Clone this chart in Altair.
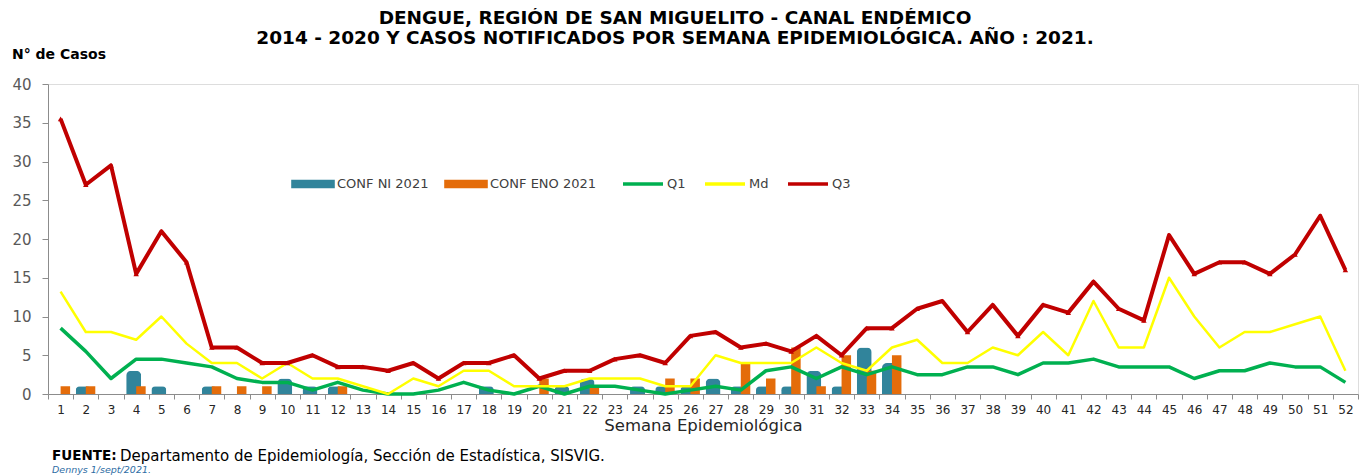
import altair as alt
import pandas as pd

# ---------------- data ----------------
weeks = list(range(1, 53))
conf_ni = [0, 1, 0, 3, 1, 0, 1, 0, 0, 2, 1, 1, 0, 0, 0, 0, 0, 1, 0, 0, 1, 2, 0, 1, 1, 1,
           2, 1, 1, 1, 3, 1, 6, 4] + [0] * 18
conf_eno = [1, 1, 0, 1, 0, 0, 1, 1, 1, 0, 0, 1, 0, 0, 0, 0, 0, 0, 0, 2, 0, 1, 0, 0, 2, 2,
            0, 4, 2, 6, 1, 5, 3, 5] + [0] * 18
q1 = [8.5, 5.5, 2, 4.5, 4.5, 4, 3.5, 2, 1.5, 1.5, 0.5, 1.5,
      0.5, 0, 0, 0.5, 1.5, 0.5, 0, 1, 0, 1, 1, 0.5, 0,
      0.5, 1, 0.5,
      3, 3.5, 2, 3.5, 2.5, 3.5, 2.5, 2.5, 3.5, 3.5,
      2.5, 4, 4, 4.5, 3.5, 3.5, 3.5, 2, 3, 3, 4, 3.5, 3.5, 1.5]
md = [13.2, 8, 8, 7, 10, 6.5, 4, 4, 2, 4, 2, 2,
      1, 0, 2, 1, 3, 3, 1, 1, 1, 2, 2, 2, 1,
      1, 5, 4,
      4, 4, 6, 4, 3, 6, 7, 4, 4, 6,
      5, 8, 5, 12, 6, 6, 15, 10, 6, 8, 8, 9, 10, 3]
q3 = [35.5, 27, 29.5, 15.5, 21, 17, 6, 6, 4, 4, 5, 3.5,
      3.5, 3, 4, 2, 4, 4, 5, 2, 3, 3, 4.5, 5, 4,
      7.5, 8, 6,
      6.5, 5.5, 7.5, 5, 8.5, 8.5, 11, 12, 8, 11.5,
      7.5, 11.5, 10.5, 14.5, 11, 9.5, 20.5, 15.5, 17, 17, 15.5, 18, 23, 16]
y_ticks = [0, 5, 10, 15, 20, 25, 30, 35, 40]

bar_names = ["CONF NI 2021", "CONF ENO 2021"]
line_names = ["Q1", "Md", "Q3"]

title_lines = ["DENGUE, REGIÓN DE SAN MIGUELITO - CANAL  ENDÉMICO",
               "2014 - 2020 Y  CASOS NOTIFICADOS POR SEMANA EPIDEMIOLÓGICA. AÑO : 2021."]
y_title = "N° de Casos"
x_title = "Semana Epidemiológica"
source_bold = "FUENTE:"
source_text = "Departamento de Epidemiología, Sección de Estadística, SISVIG."
author_text = "Dennys  1/sept/2021."

# ---------------- styles ----------------
bar_colors = ["#31849B", "#E46C0A"]
line_colors = ["#00B050", "#FFFF00", "#C00000"]
line_widths = [3.5, 2.5, 4]
axis_grey = "#8C8C8C"

bars_df = pd.DataFrame({
    "week": weeks * 2,
    "serie": [bar_names[0]] * 52 + [bar_names[1]] * 52,
    "value": conf_ni + conf_eno,
})
lines_df = pd.DataFrame({
    "week": weeks * 3,
    "serie": [line_names[0]] * 52 + [line_names[1]] * 52 + [line_names[2]] * 52,
    "value": q1 + md + q3,
})

x_enc = alt.X(
    "week:O",
    scale=alt.Scale(paddingInner=0, paddingOuter=0),
    axis=alt.Axis(
        title=x_title, labelAngle=0, tickBand="extent", grid=False,
        domainColor=axis_grey, tickColor=axis_grey, tickSize=5,
        labelFont="DejaVu Sans", labelFontSize=12, labelColor="#262626", labelPadding=5,
        titleFont="DejaVu Sans", titleFontSize=16.5, titleFontWeight="normal",
        titleColor="#262626", titlePadding=2,
    ),
)
y_scale = alt.Scale(domain=[0, 40], nice=False)
y_enc = alt.Y(
    "value:Q", scale=y_scale,
    axis=alt.Axis(
        title=None, values=y_ticks, grid=False,
        domainColor=axis_grey, tickColor=axis_grey, tickSize=6,
        labelFont="DejaVu Sans", labelFontSize=15, labelColor="#595959", labelPadding=11,
    ),
)

fill_enc = alt.Fill(
    "serie:N",
    scale=alt.Scale(domain=bar_names, range=bar_colors),
    legend=alt.Legend(
        title=None, orient="none", legendX=243, legendY=78, direction="horizontal",
        symbolType="M-1,-0.19L1,-0.19L1,0.19L-1,0.19Z", symbolSize=1900,
        symbolStrokeWidth=0, symbolOpacity=1,
        labelFont="DejaVu Sans", labelFontSize=13, labelColor="#404040",
        labelOffset=2, columnPadding=15,
    ),
)
stroke_enc = alt.Stroke(
    "serie:N",
    scale=alt.Scale(domain=line_names, range=line_colors),
    legend=alt.Legend(
        title=None, orient="none", legendX=573, legendY=78, direction="horizontal",
        symbolType="stroke", symbolSize=1600, symbolStrokeWidth=3.5,
        labelFont="DejaVu Sans", labelFontSize=13, labelColor="#404040",
        labelOffset=2, columnPadding=12,
    ),
)

bars_base = alt.Chart(bars_df).encode(x=x_enc, y=y_enc, fill=fill_enc)
bar_ni = bars_base.mark_bar(size=15, xOffset=-2.5, cornerRadiusTopLeft=5,
                            cornerRadiusTopRight=5).transform_filter(
    (alt.datum.serie == bar_names[0]) & (alt.datum.value > 0))
bar_eno = bars_base.mark_bar(size=9.5, xOffset=4.75).transform_filter(
    (alt.datum.serie == bar_names[1]) & (alt.datum.value > 0))

lines_base = alt.Chart(lines_df).encode(x=x_enc, y=y_enc, stroke=stroke_enc)
line_layers = []
for name, w in zip(line_names, line_widths):
    line_layers.append(
        lines_base.mark_line(strokeWidth=w, strokeJoin="round")
        .transform_filter(alt.datum.serie == name)
    )
q3_points = alt.Chart(lines_df).mark_point(
    shape="triangle-up", filled=True, size=30, color=line_colors[2], opacity=1
).encode(x=x_enc, y=y_enc).transform_filter(alt.datum.serie == line_names[2])

one = pd.DataFrame({"k": [0]})
title_mark = alt.Chart(one).mark_text(
    align="center", baseline="middle", font="DejaVu Sans", fontSize=18.5,
    fontWeight="bold", color="black", lineHeight=20,
).encode(x=alt.value(627), y=alt.value(-66), text=alt.value(title_lines))
ytitle_mark = alt.Chart(one).mark_text(
    align="left", baseline="middle", font="DejaVu Sans", fontSize=14,
    fontWeight="bold", color="black",
).encode(x=alt.value(-36), y=alt.value(-29), text=alt.value(y_title))
src_bold_mark = alt.Chart(one).mark_text(
    align="left", baseline="middle", font="DejaVu Sans", fontSize=13.5,
    fontWeight="bold", color="black",
).encode(x=alt.value(4), y=alt.value(372), text=alt.value(source_bold))
src_mark = alt.Chart(one).mark_text(
    align="left", baseline="middle", font="DejaVu Sans", fontSize=15,
    color="black",
).encode(x=alt.value(72), y=alt.value(372), text=alt.value(source_text))
author_mark = alt.Chart(one).mark_text(
    align="left", baseline="middle", font="DejaVu Sans", fontSize=9.5,
    fontStyle="italic", color="#2E6DA4",
).encode(x=alt.value(4), y=alt.value(386), text=alt.value(author_text))

chart = alt.layer(
    bar_ni, bar_eno, *line_layers, q3_points,
    title_mark, ytitle_mark, src_bold_mark, src_mark, author_mark,
).properties(
    width=1310, height=310,
    autosize=alt.AutoSizeParams(type="none"),
    padding={"left": 40, "top": 76, "right": 2, "bottom": 82},
).configure_view(stroke=None).configure(background="white")

chart.save("out.html", embed_options={"renderer": "svg", "actions": False})
